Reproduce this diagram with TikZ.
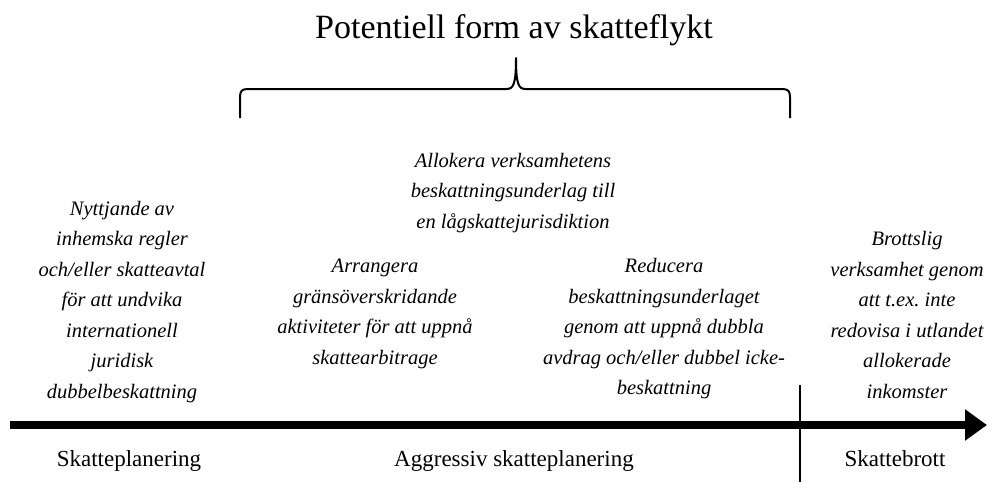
\documentclass[tikz,border=0pt]{standalone}
\usepackage{fontspec}
\setmainfont{Liberation Serif}
\usetikzlibrary{arrows.meta}
\begin{document}
\begin{tikzpicture}[x=1pt,y=-1pt,
  desc/.style={align=center,inner sep=0pt,font=\fontsize{20.5}{30.5}\selectfont\itshape},
  zone/.style={inner sep=0pt,anchor=base,font=\fontsize{23}{27}\selectfont},
  heading/.style={inner sep=0pt,font=\fontsize{34}{38}\selectfont},
  bracepath/.style={line width=2pt,line join=round},
  axisline/.style={line width=8.5pt,-{Triangle[length=22pt,width=30pt]}},
  divider/.style={line width=1.4pt}]
\useasboundingbox (0,0) rectangle (987,482);

% heading and the brace below it
\node[heading] (title) at (514,30) {Potentiell form av skatteflykt};
\coordinate (bl) at (240,118);
\coordinate (br) at (790,118);
\coordinate (tip) at (516,58);
\draw[bracepath] (bl) -- (240,97) .. controls (240,91) and (242,89) .. (248,89)
  -- (506,89) .. controls (513,89) and (516,86) .. (tip)
  .. controls (516,86) and (519,89) .. (526,89)
  -- (782,89) .. controls (788,89) and (790,91) .. (790,97) -- (br);

% descriptions above the axis
\node[desc] (left) at (122,302) {Nyttjande av\\inhemska regler\\och/eller skatteavtal\\för att undvika\\internationell\\juridisk\\dubbelbeskattning};
\node[desc] (alloc) at (513,193) {Allokera verksamhetens\\beskattningsunderlag till\\en lågskattejurisdiktion};
\node[desc] (arr) at (375,314) {Arrangera\\gränsöverskridande\\aktiviteter för att uppnå\\skattearbitrage};
\node[desc] (red) at (664,329) {Reducera\\beskattningsunderlaget\\genom att uppnå dubbla\\avdrag och/eller dubbel icke-\\beskattning};
\node[desc] (crime) at (907,315) {Brottslig\\verksamhet genom\\att t.ex.\ inte\\redovisa i utlandet\\allokerade\\inkomster};

% axis and divider
\coordinate (axL) at (10,425);
\coordinate (axR) at (987,425);
\draw[axisline] (axL) -- (axR);
\coordinate (dTop) at (800,385);
\coordinate (dBot) at (800,482);
\draw[divider] (dTop) -- (dBot);

% zone labels below the axis
\node[zone] (z1) at (129,466) {Skatteplanering};
\node[zone] (z2) at (514,466) {Aggressiv skatteplanering};
\node[zone] (z3) at (895,466) {Skattebrott};
\end{tikzpicture}
\end{document}
